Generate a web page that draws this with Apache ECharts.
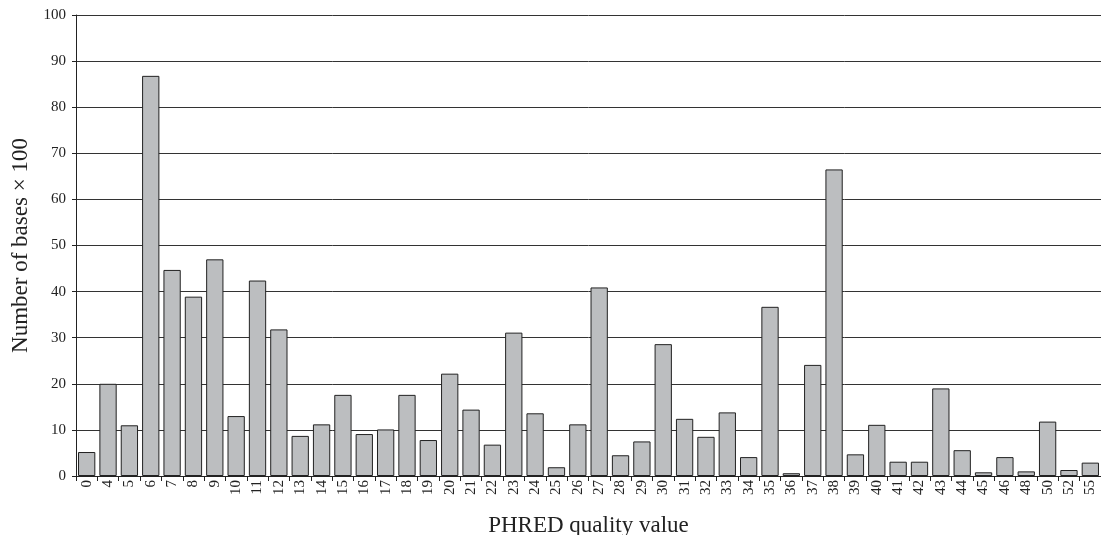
<!DOCTYPE html>
<html>
<head>
<meta charset="utf-8">
<script src="https://cdn.jsdelivr.net/npm/echarts@6/dist/echarts.min.js"></script>
<style>
  html, body { margin: 0; padding: 0; background: #fff; }
  #chart { width: 1101px; height: 535px; }
</style>
</head>
<body>
<div id="chart"></div>
<script>
// PHRED quality value categories
var qualities = ['0', '4', '5', '6', '7', '8', '9', '10', '11', '12', '13', '14', '15', '16',
    '17', '18', '19', '20', '21', '22', '23', '24', '25', '26', '27', '28', '29', '30',
    '31', '32', '33', '34', '35', '36', '37', '38', '39', '40', '41', '42', '43', '44',
    '45', '46', '48', '50', '52', '55'];

// number of bases x 100
var bases = [5.2, 20.0, 11.0, 86.8, 44.7, 38.9, 47.0, 13.0, 42.4, 31.8, 8.7, 11.2, 17.6, 9.1,
    10.1, 17.6, 7.8, 22.2, 14.4, 6.8, 31.1, 13.6, 1.9, 11.2, 40.9, 4.5, 7.5, 28.6,
    12.4, 8.5, 13.8, 4.1, 36.7, 0.6, 24.1, 66.5, 4.7, 11.1, 3.1, 3.1, 19.0, 5.6,
    0.8, 4.1, 1.0, 11.8, 1.3, 2.9];

var yTicks = [0, 10, 20, 30, 40, 50, 60, 70, 80, 90, 100];

var chart = echarts.init(document.getElementById('chart'));

var serif = '"Liberation Serif", "Times New Roman", serif';

var option = {
    animation: false,
    grid: {
        left: 76,
        right: 0,
        top: 15,
        bottom: 59,
        outerBoundsMode: 'none'
    },
    xAxis: {
        type: 'category',
        data: qualities,
        name: 'PHRED quality value',
        nameLocation: 'middle',
        nameGap: 38,
        nameTextStyle: {
            fontFamily: serif,
            fontSize: 23,
            color: '#222'
        },
        axisLine: {
            lineStyle: { color: '#222', width: 1 }
        },
        axisTick: {
            show: true,
            length: 5,
            lineStyle: { color: '#222' }
        },
        axisLabel: {
            interval: 0,
            rotate: 90,
            margin: 4,
            fontFamily: serif,
            fontSize: 15,
            color: '#222'
        },
        splitLine: { show: false }
    },
    yAxis: {
        type: 'value',
        min: yTicks[0],
        max: yTicks[yTicks.length - 1],
        interval: 10,
        name: 'Number of bases \u00d7 100',
        nameLocation: 'middle',
        nameGap: 41,
        nameTextStyle: {
            fontFamily: serif,
            fontSize: 23,
            color: '#222'
        },
        axisLine: {
            show: true,
            lineStyle: { color: '#222', width: 1 }
        },
        axisTick: {
            show: true,
            length: 4,
            lineStyle: { color: '#222' }
        },
        axisLabel: {
            margin: 10,
            fontFamily: serif,
            fontSize: 15,
            color: '#222'
        },
        splitLine: {
            show: true,
            lineStyle: { color: '#333', width: 1 }
        }
    },
    series: [
        {
            name: 'bases',
            type: 'bar',
            data: bases,
            barCategoryGap: '19%',
            itemStyle: {
                color: '#bcbec0',
                borderColor: '#222',
                borderWidth: 1
            }
        }
    ]
};

chart.setOption(option);
</script>
</body>
</html>
